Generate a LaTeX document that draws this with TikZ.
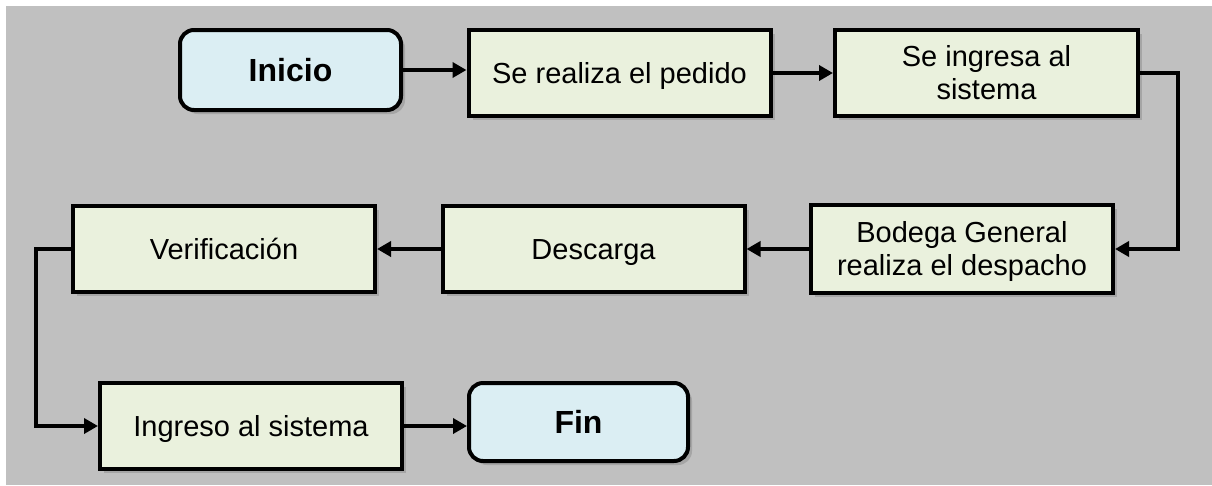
\documentclass[tikz,border=0pt]{standalone}
\usepackage{fontspec}
\setmainfont{Liberation Sans}
\usetikzlibrary{arrows.meta,shadows}
\definecolor{bggray}{RGB}{192,192,192}
\definecolor{boxgreen}{RGB}{234,241,221}
\definecolor{boxblue}{RGB}{219,238,243}
\definecolor{shadowgray}{RGB}{165,165,165}
\newcommand\wstr{\rule[-0.212em]{0pt}{1.117em}}
\tikzset{
  shad/.style={drop shadow={shadow xshift=4pt,shadow yshift=-4pt,fill=shadowgray,opacity=1}},
  procbox/.style={draw=black,line width=4pt,fill=boxgreen,shad,inner sep=0pt,
    minimum width=302pt,minimum height=86pt,align=center,
    font=\fontsize{29}{33}\selectfont},
  termbox/.style={draw=black,line width=4pt,fill=boxblue,shad,inner sep=0pt,
    rounded corners=14pt,align=center,font=\fontsize{32}{36}\selectfont\bfseries},
  arr/.style={line width=4pt,-{Triangle[length=14pt,width=15pt]}}
}
\begin{document}
\begin{tikzpicture}[x=1pt,y=-1pt]
\useasboundingbox (0,0) rectangle (1212,485);
\fill[white] (0,0) rectangle (1212,485);
\fill[bggray] (6,6) rectangle (1212,485);
\node[termbox,minimum width=221pt,minimum height=80pt] (ini) at (290.5,70) {\wstr Inicio};
\node[procbox] (sr) at (619.5,73) {\wstr Se realiza el pedido};
\node[procbox,minimum width=303pt] (sing) at (986.5,73) {\wstr Se ingresa al\\\wstr sistema};
\node[procbox,minimum height=88pt] (bod) at (962,249) {\wstr Bodega General\\\wstr realiza el despacho};
\node[procbox] (desc) at (593.5,249) {\wstr Descarga};
\node[procbox] (ver) at (224,249) {\wstr Verificación};
\node[procbox] (ing) at (251,426) {\wstr Ingreso al sistema};
\node[termbox,minimum width=219pt,minimum height=78pt] (fin) at (578.5,422) {\wstr Fin};
\draw[arr] (ini.east) -- (ini.east -| sr.west);
\draw[arr] (sr.east) -- (sing.west);
\draw[arr] (sing.east) -- ++(38,0) |- (bod.east);
\draw[arr] (bod.west) -- (desc.east);
\draw[arr] (desc.west) -- (ver.east);
\draw[arr] (ver.west) -- ++(-35,0) |- (ing.west);
\draw[arr] (ing.east) -- (ing.east -| fin.west);
\end{tikzpicture}
\end{document}
